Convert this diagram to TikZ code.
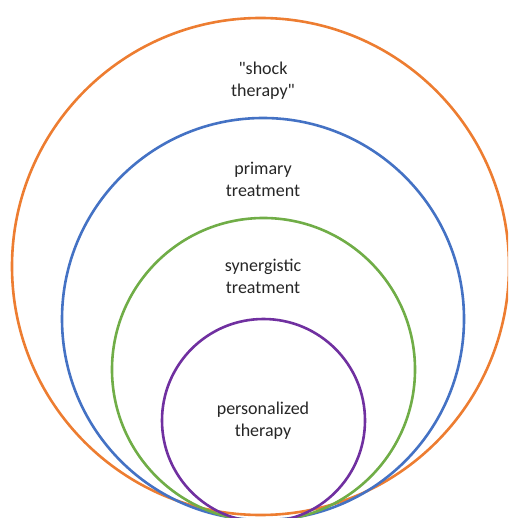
\documentclass[tikz,border=0pt]{standalone}
\usepackage{fontspec}
\setmainfont{Carlito}[Ligatures=TeXOff]
\definecolor{corange}{HTML}{ED7D31}
\definecolor{cblue}{HTML}{4472C4}
\definecolor{cgreen}{HTML}{70AD47}
\definecolor{cpurple}{HTML}{7030A0}
\begin{document}
\begin{tikzpicture}[x=1pt,y=-1pt,
  ring/.style={draw=#1,line width=2.6pt},
  lbl/.style={align=center,font=\fontsize{18}{22}\selectfont,text=black!85,inner sep=0pt}]
\useasboundingbox (0,0) rectangle (508,518);
\clip (0,0) rectangle (508,518);
\node[ring=corange,circle,minimum size=497pt,inner sep=0pt] (c1) at (260.5,266.5) {};
\node[ring=cblue,circle,minimum size=402pt,inner sep=0pt] (c2) at (263,319) {};
\node[ring=cgreen,circle,minimum size=303pt,inner sep=0pt] (c3) at (263.5,369.5) {};
\node[ring=cpurple,circle,minimum size=203pt,inner sep=0pt] (c4) at (263.5,420.5) {};
\node[lbl] (t1) at (263,81) {"shock\\therapy"};
\node[lbl] (t2) at (263,179) {primary\\treatment};
\node[lbl] (t3) at (263,276.5) {synergistic\\treatment};
\node[lbl] (t4) at (263,421) {personalized\\therapy};
\end{tikzpicture}
\end{document}
